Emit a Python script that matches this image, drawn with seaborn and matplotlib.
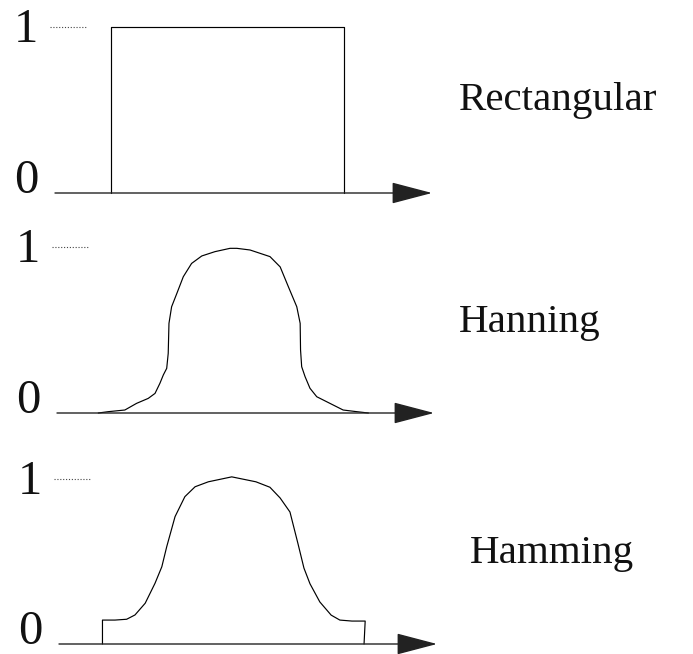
import matplotlib
matplotlib.use("Agg")
import matplotlib.pyplot as plt
import pandas as pd
import seaborn as sns

sns.set_theme(style="white")
plt.rcParams["font.family"] = ["Liberation Serif", "DejaVu Serif"]

# Time axis runs from 0 (origin) to 100 (arrow tip); amplitude 0..1.
rect_t = [14.85, 14.85, 76.66, 76.66]
rect_v = [0.0, 1.0, 1.0, 0.0]

hann_t = [10.95, 13.6, 18.0, 21.1, 24.2, 26.0, 27.3, 28.2, 29.1, 29.5, 29.7,
          30.4, 31.8, 33.5, 35.7, 38.4, 41.9, 45.9, 47.7, 51.2, 56.5, 59.2,
          61.4, 63.6, 64.5, 64.6, 64.9, 65.8, 67.1, 68.9, 72.4, 75.9, 79.5, 82.6]
hann_v = [0.0, 0.008, 0.018, 0.058, 0.088, 0.118, 0.179, 0.229, 0.269, 0.359,
          0.540, 0.640, 0.721, 0.821, 0.901, 0.946, 0.972, 0.992, 0.992, 0.982,
          0.942, 0.880, 0.759, 0.640, 0.540, 0.380, 0.279, 0.219, 0.149, 0.098,
          0.058, 0.018, 0.008, 0.0]

hamm_t = [11.5, 11.5, 14.8, 17.9, 20.1, 22.8, 25.4, 27.2, 28.5, 30.7, 33.3,
          36.0, 39.5, 45.7, 52.1, 55.8, 58.5, 61.1, 63.2, 64.8, 66.4, 69.0,
          72.0, 74.3, 77.5, 81.0, 80.7]
hamm_v = [0.0, 0.145, 0.145, 0.150, 0.176, 0.247, 0.368, 0.468, 0.590, 0.772,
          0.893, 0.953, 0.983, 1.013, 0.983, 0.950, 0.885, 0.800, 0.610, 0.460,
          0.365, 0.255, 0.175, 0.145, 0.139, 0.139, 0.0]

names = ["Rectangular", "Hanning", "Hamming"]
windows = [(rect_t, rect_v), (hann_t, hann_v), (hamm_t, hamm_v)]

W, H = 693, 654
fig = plt.figure(figsize=(W / 100, H / 100), dpi=100)

# panel frames in pixels: (axis start x, arrow tip x, y of level 0, y of level 1)
frames = [(55, 432, 193, 27), (57, 434, 413, 247), (59, 437, 644, 479)]
name_pos = [(459, 110), (459, 332), (470, 563)]

px_to_pt = 72 / 100

for (t, v), name, (x0, x1, y0, y1), (nx, ny) in zip(windows, names, frames, name_pos):
    ax = fig.add_axes([x0 / W, (H - y0) / H, (x1 - x0) / W, (y0 - y1) / H])
    ax.set_xlim(0, 100)
    ax.set_ylim(0, 1)
    ax.axis("off")

    df = pd.DataFrame({"t": t, "v": v})
    sns.lineplot(data=df, x="t", y="v", ax=ax, sort=False, estimator=None,
                 color="black", linewidth=0.85, clip_on=False)
    for ln in ax.lines:
        ln.set_solid_joinstyle("round")

    # time axis with arrow head
    ax.annotate("", xy=(100, 0), xytext=(0, 0), xycoords="data",
                arrowprops=dict(arrowstyle="-|>,head_length=25.9,head_width=6.8",
                                mutation_scale=1, lw=1.0, color="#222222",
                                shrinkA=0, shrinkB=0),
                annotation_clip=False)

    # dotted reference at level 1
    ax.plot([-1.3, 8.3], [1, 1], color="#444444", lw=0.8,
            linestyle=(0, (1, 1.6)), clip_on=False)

    # level labels
    ax.annotate("1", xy=(0, 1), xytext=(-29 * px_to_pt, -15 * px_to_pt),
                textcoords="offset points", ha="center", va="baseline",
                fontsize=35, color="#111111", annotation_clip=False)
    ax.annotate("0", xy=(0, 0), xytext=(-29 * px_to_pt, 0),
                textcoords="offset points", ha="center", va="baseline",
                fontsize=35, color="#111111", annotation_clip=False)

    fig.text(nx / W, (H - ny) / H, name, ha="left", va="baseline",
             fontsize=29.5, color="#111111")

fig.savefig("out.png", dpi=100)
